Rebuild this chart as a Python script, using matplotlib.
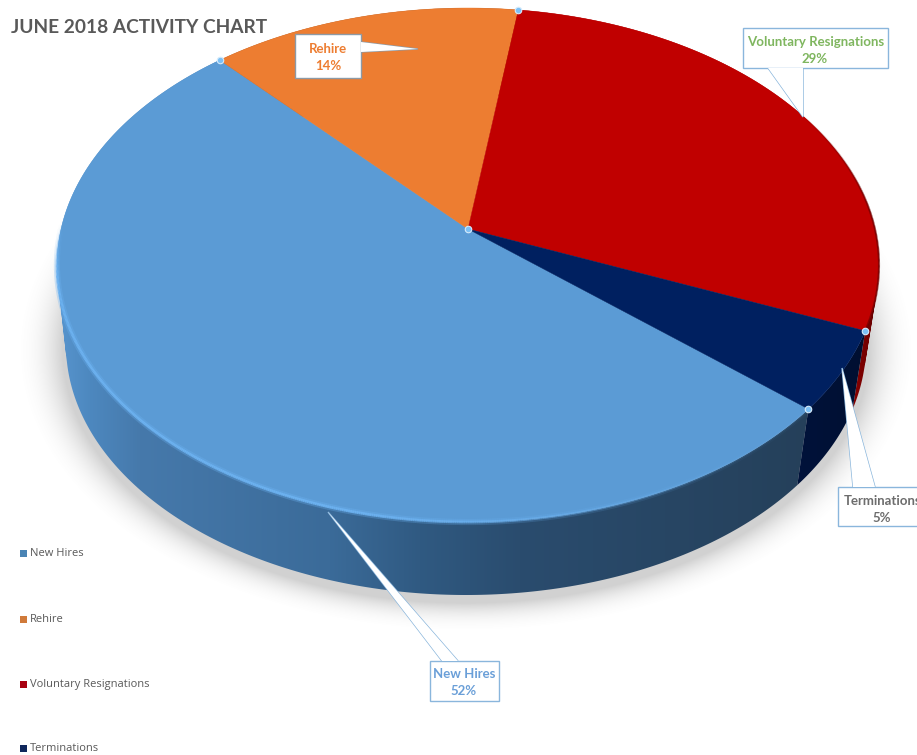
#!/usr/bin/env python3
# -*- coding: utf-8 -*-
import numpy as np
import matplotlib
matplotlib.use('Agg')
import matplotlib.pyplot as plt
from matplotlib.collections import LineCollection
from matplotlib.colors import to_rgb
from matplotlib.patches import Polygon, Rectangle
from matplotlib.path import Path

title = 'JUNE 2018 ACTIVITY CHART'
categories = ['New Hires', 'Rehire', 'Voluntary Resignations', 'Terminations']
shares = [52, 14, 29, 5]
top_colors = ['#5b9bd5', '#ed7d31', '#c00000', '#002060']
label_colors = ['#6a9fd8', '#ed7d31', '#7fb65f', '#6d6d6d']
legend_colors = ['#4a84b4', '#d07a3a', '#a80010', '#10285c']

# disc geometry, in pixels
START_ANGLE = 319.5
TOP = (468, 265, 411, 257)
BOTTOM = (466, 345, 400, 250)
SKEW = 0.14  # moves the disc centre back, as the perspective does
FONT = 'Lato'

fig = plt.figure(figsize=(9.17, 7.55), dpi=100)
ax = fig.add_axes([0, 0, 1, 1])
ax.set_xlim(0, 917)
ax.set_ylim(755, 0)
ax.axis('off')


def project(deg, ellipse):
    t = np.radians(deg)
    x, y = np.cos(t), np.sin(t)
    k = 1 + SKEW * y
    xp = x * np.sqrt(1 - SKEW ** 2) / k
    yp = (y + SKEW) / k
    cx, cy, a, b = ellipse
    return cx + a * xp, cy - b * yp


def ramp(xs, stops):
    pos = [s[0] for s in stops]
    rgb = np.array([to_rgb(s[1]) for s in stops])
    return np.column_stack([np.interp(xs, pos, rgb[:, i]) for i in range(3)])


def wall_path(ts):
    # one quad per step, all wound the same way so folds at the sides still fill
    rx, ry = project(ts, TOP)
    bx, by = project(ts, BOTTOM)
    paths = []
    for j in range(len(ts) - 1):
        q = np.array([(rx[j], ry[j]), (rx[j + 1], ry[j + 1]), (bx[j + 1], by[j + 1]), (bx[j], by[j])])
        area = np.sum(q[:, 0] * np.roll(q[:, 1], -1) - np.roll(q[:, 0], -1) * q[:, 1])
        if area < 0:
            q = q[::-1]
        paths.append(Path(np.vstack([q, q[0]]), closed=True))
    return Path.make_compound_path(*paths)


# soft shadow under the disc
gx, gy = np.meshgrid(np.arange(917) + 0.5, np.arange(755) + 0.5)
r = np.hypot((gx - BOTTOM[0]) / (BOTTOM[2] + 3), (gy - BOTTOM[1] - 5) / (BOTTOM[3] + 3))
fade = np.clip(1 - (r - 1) * 300 / 36, 0, 1) ** 2.2
shadow = np.zeros((755, 917, 4))
shadow[..., :3] = 0.5
shadow[..., 3] = 0.36 * fade
ax.imshow(shadow, extent=(0, 917, 755, 0), origin='upper', aspect='auto', zorder=1)

wall_stops = [
    [(50, '#5a98d2'), (90, '#4d88bf'), (140, '#4679ab'), (330, '#3b6b99'),
     (420, '#305a82'), (520, '#2a4c6e'), (810, '#25405a')],
    [(0, '#7a3a10'), (917, '#7a3a10')],
    [(840, '#9a0000'), (870, '#700000'), (885, '#400000')],
    [(790, '#00133c'), (870, '#000f30')],
]

# slice boundaries run clockwise from the start angle
ends = START_ANGLE - np.cumsum(shares) * 3.6
starts = np.r_[START_ANGLE, ends[:-1]]
apex = (TOP[0], TOP[1] - TOP[3] * SKEW)

# side walls, shaded left to right and clipped to each slice's outline
xs = np.arange(917) + 0.5
for i in range(len(shares)):
    ts = np.linspace(starts[i], ends[i], 300)
    strip = ramp(xs, wall_stops[i])[np.newaxis, :, :]
    im = ax.imshow(strip, extent=(0, 917, 755, 0), aspect='auto', zorder=2)
    im.set_clip_path(wall_path(ts), ax.transData)

for i in range(len(shares)):
    ts = np.linspace(starts[i], ends[i], 400)
    rx, ry = project(ts, TOP)
    pts = np.column_stack([np.r_[apex[0], rx], np.r_[apex[1], ry]])
    ax.add_patch(Polygon(pts, closed=True, facecolor=top_colors[i], edgecolor=top_colors[i],
                         linewidth=0.3, zorder=3))

# lit bevel along the front of the largest slice, soft halo then a core line
ts = np.linspace(starts[0], ends[0], 700)
rx, ry = project(ts, TOP)
segs = np.stack([np.column_stack([rx[:-1], ry[:-1]]), np.column_stack([rx[1:], ry[1:]])], axis=1)
alpha = np.clip((ry[:-1] - 225) / 50, 0, 1) * np.interp(rx[:-1], [360, 760], [0.9, 0.1])
tint = np.tile(to_rgb('#6db3f2'), (len(segs), 1))
ax.add_collection(LineCollection(segs, colors=np.column_stack([tint, alpha * 0.35]),
                                 linewidths=4.5, zorder=4, capstyle='butt'))
ax.add_collection(LineCollection(segs, colors=np.column_stack([tint, alpha]),
                                 linewidths=2, zorder=4, capstyle='butt'))

# dark edge where the top of the red slice turns over, fading in from the back
ts = np.linspace(30, ends[2], 200)
rx, ry = project(ts, TOP)
segs = np.stack([np.column_stack([rx[:-1], ry[:-1]]), np.column_stack([rx[1:], ry[1:]])], axis=1)
alpha = 0.7 * np.clip((30 - ts[:-1]) / 25, 0, 1)
tint = np.tile(to_rgb('#6a0000'), (len(segs), 1))
ax.add_collection(LineCollection(segs, colors=np.column_stack([tint, alpha]),
                                 linewidths=1.5, zorder=4, capstyle='butt'))

# slice handles
handle_angles = np.r_[starts[0], ends[:-1]]
hx, hy = project(handle_angles, TOP)
hx = np.r_[hx, apex[0]]
hy = np.r_[hy, apex[1]]
ax.scatter(hx, hy, s=22, facecolor='#7cc0f5', edgecolor='#d6ebfb', linewidth=0.8, zorder=5)

# callouts: box as (x0, y0, x1, y1), pointer base and tip in pixels
callouts = [
    ((430, 661, 499, 701), [(442, 661), (328, 512), (458, 661)], (464, 674), (464, 691)),
    ((295, 34, 361, 78), [(361, 42), (418, 49), (361, 52)], (328, 49), (328, 66)),
    ((743, 28, 888, 68), [(768, 68), (803, 117), (803, 68)], (816, 42), (815, 59)),
    ((838, 487, 930, 526), [(853, 487), (842, 368), (875, 487)], (883, 501), (882, 518)),
]
edge_colors = ['#8ab6dc', '#8d9aa6', '#8ab6dc', '#8ab6dc']

for i, (box, pointer, pos_name, pos_share) in enumerate(callouts):
    x0, y0, x1, y1 = box
    ax.add_patch(Polygon(pointer, closed=False, facecolor='white', edgecolor=edge_colors[i],
                         linewidth=1.0, zorder=6))
    ax.add_patch(Rectangle((x0, y0), x1 - x0, y1 - y0, facecolor='white',
                           edgecolor=edge_colors[i], linewidth=1.0, zorder=6))
    ax.add_patch(Polygon(pointer, closed=True, facecolor='white', edgecolor='none', zorder=6.5))
    ax.text(*pos_name, categories[i], color=label_colors[i], ha='center', va='center',
            fontsize=9.5, fontweight='bold', family=FONT, zorder=7)
    ax.text(*pos_share, '%d%%' % shares[i], color=label_colors[i], ha='center', va='center',
            fontsize=9.5, fontweight='bold', family=FONT, zorder=7)

# legend down the left side
legend_y = [553, 619, 684, 748]
for name, col, y in zip(categories, legend_colors, legend_y):
    ax.add_patch(Rectangle((20, y - 3.5), 7, 7, facecolor=col, edgecolor='none', zorder=6))
    ax.text(30, y + 0.5, name, color='#595959', ha='left', va='center', fontsize=8.0,
            family='Open Sans', zorder=7)

ax.text(11, 27.5, title, color='#595959', ha='left', va='center', fontsize=13.8,
        fontweight='bold', family=FONT, zorder=7)

fig.savefig('out.png', dpi=100)
